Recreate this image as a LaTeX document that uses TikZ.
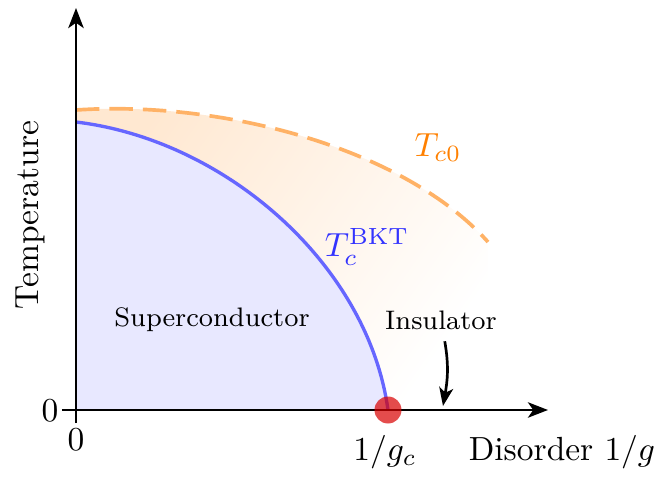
\documentclass[tikz,border=0pt]{standalone}
\usetikzlibrary{arrows.meta}
\usetikzlibrary{positioning}
\tikzset{
  axis/.style={line width=0.8pt,-{Stealth[length=6pt,width=4.6pt,inset=1.6pt]}},
  phase/.style={font=\footnotesize},
  pointer/.style={line width=0.8pt,-{Stealth[length=5.5pt,width=4.2pt,inset=1.5pt]}},
}
\begin{document}
\begin{tikzpicture}[x=1.05cm,y=1.05cm]
  \useasboundingbox (-0.76,-0.69) rectangle (5.81,4.10);
  \shade[shading=axis,top color=orange!18,bottom color=white,shading angle=55]
    (0,0) -- (0,3.00) .. controls (1.5,3.10) and (3.3,2.60) .. (4.12,1.68) -- (4.12,0) -- cycle;
  \fill[blue!9] (0,0) -- (0,2.88) .. controls (1.5,2.70) and (2.92,1.45) .. (3.12,0) -- cycle;
  \draw[orange!60,line width=1.1pt,dash pattern=on 7pt off 3pt]
    (0,3.00) .. controls (1.5,3.10) and (3.3,2.60) .. (4.12,1.68);
  \draw[blue!60,line width=1pt] (0,2.88) .. controls (1.5,2.70) and (2.92,1.45) .. (3.12,0);
  \draw[axis] (-0.14,0) -- (4.72,0);
  \draw[axis] (0,-0.13) -- (0,4.02);
  \fill[red!85!black,opacity=0.7] (3.12,0) circle (0.135);
  \node (yzero) at (-0.26,-0.01) {$0$};
  \node (xzero) at (0,-0.30) {$0$};
  \node[rotate=90] (temp) at (-0.46,1.95) {Temperature};
  \node (gc) at (3.09,-0.42) {$1/g_c$};
  \node (disorder) at (4.86,-0.42) {Disorder $1/g$};
  \node[orange] (tczero) at (3.62,2.62) {$T_{c0}$};
  \node[blue!80] (tbkt) at (2.91,1.63) {$T_c^{\mathrm{BKT}}$};
  \node[phase] (sc) at (1.36,0.90) {Superconductor};
  \node[phase] (ins) at (3.65,0.90) {Insulator};
  \coordinate (insend) at (3.67,0.04);
  \draw[pointer] (ins) to[out=-80,in=80] (insend);
\end{tikzpicture}
\end{document}
